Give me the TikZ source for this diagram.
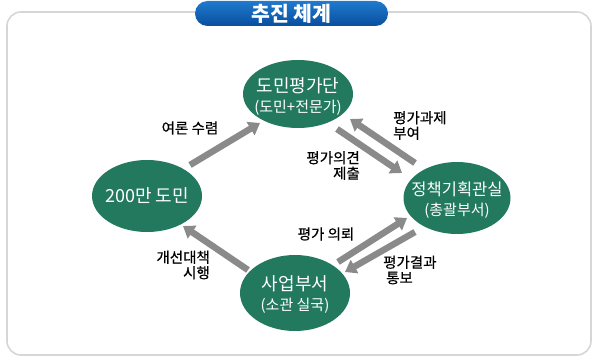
\documentclass[tikz,border=0pt]{standalone}
\usepackage{fontspec}
\setmainfont{Noto Sans CJK KR}
\newfontfamily\kr{Noto Sans CJK KR}
\newfontfamily\krl[FakeBold=0.6]{Noto Sans CJK KR}
\usetikzlibrary{arrows.meta,shapes.geometric}
\definecolor{bubgreen}{RGB}{34,121,94}
\definecolor{arrgray}{RGB}{138,138,138}
\definecolor{framegray}{RGB}{214,214,214}
\definecolor{titletop}{RGB}{32,122,205}
\definecolor{titlebot}{RGB}{8,78,158}
\tikzset{
  bub/.style={ellipse, fill=bubgreen, inner sep=0pt},
  bubtext/.style={text=white, inner sep=0pt, align=center,
    font=\kr\fontsize{18}{20}\selectfont},
  flow/.style={draw=arrgray, line width=6.5pt, -{Triangle[width=15pt,length=11pt]}},
  lbl/.style={inner sep=0pt, font=\krl\fontsize{14.5}{15.5}\selectfont, text=black},
}
\newcommand{\subline}[1]{{\fontsize{15}{19}\selectfont #1}}
\begin{document}
\begin{tikzpicture}[x=1pt,y=-1pt]
\useasboundingbox (0,0) rectangle (593,358);
% frame
\draw[framegray, line width=1.6pt, rounded corners=14pt] (7,12) rectangle (591,355);
% title pill
\node[rounded corners=12.5pt, top color=titletop, bottom color=titlebot,
  minimum width=193pt, minimum height=25pt, inner sep=0pt, text=white,
  font=\kr\bfseries\fontsize{20.5}{22}\selectfont] (title) at (291.5,13.5) {추진 체계};
% bubbles
\node[bub, minimum width=110pt, minimum height=68pt] (top) at (298,94) {};
\node[bub, minimum width=110pt, minimum height=72pt] (left) at (147,196) {};
\node[bub, minimum width=107pt, minimum height=72pt] (right) at (457,198) {};
\node[bub, minimum width=110pt, minimum height=76pt] (bot) at (295,293) {};
\node[bubtext] (topt) at ([yshift=-3pt]top.center) {도민평가단\\\subline{(도민+전문가)}};
\node[bubtext] (leftt) at (left.center) {200만 도민};
\node[bubtext] (rightt) at ([yshift=-2pt]right.center) {{\fontsize{16.5}{20}\selectfont 정책기획관실}\\\subline{(총괄부서)}};
\node[bubtext] (bott) at ([yshift=-2pt]bot.center) {사업부서\\\subline{(소관 실국)}};
% arrow ends
\coordinate (a1s) at (190,165); \coordinate (a1e) at (260,123);
\coordinate (a2s) at (248,270); \coordinate (a2e) at (183,226);
\coordinate (a3s) at (415,163); \coordinate (a3e) at (350,119);
\coordinate (a4s) at (337,129); \coordinate (a4e) at (402,173);
\coordinate (a5s) at (338,262); \coordinate (a5e) at (407,218);
\coordinate (a6s) at (415,232); \coordinate (a6e) at (345,272);
\draw[flow] (a1s) -- (a1e);
\draw[flow] (a2s) -- (a2e);
\draw[flow] (a3s) -- (a3e);
\draw[flow] (a4s) -- (a4e);
\draw[flow] (a5s) -- (a5e);
\draw[flow] (a6s) -- (a6e);
% labels
\node[lbl] (l1) at (190,128) {여론 수렴};
\node[lbl, align=right, anchor=east] (l2) at (210,265) {개선대책\\시행};
\node[lbl, align=left, anchor=west] (l3) at (393,125.5) {평가과제\\부여};
\node[lbl, align=right, anchor=east] (l4) at (360,165.5) {평가의견\\제출};
\node[lbl] (l5) at (326,234) {평가 의뢰};
\node[lbl, align=left, anchor=west] (l6) at (383,270) {평가결과\\\hspace{3pt}통보};
\end{tikzpicture}
\end{document}
